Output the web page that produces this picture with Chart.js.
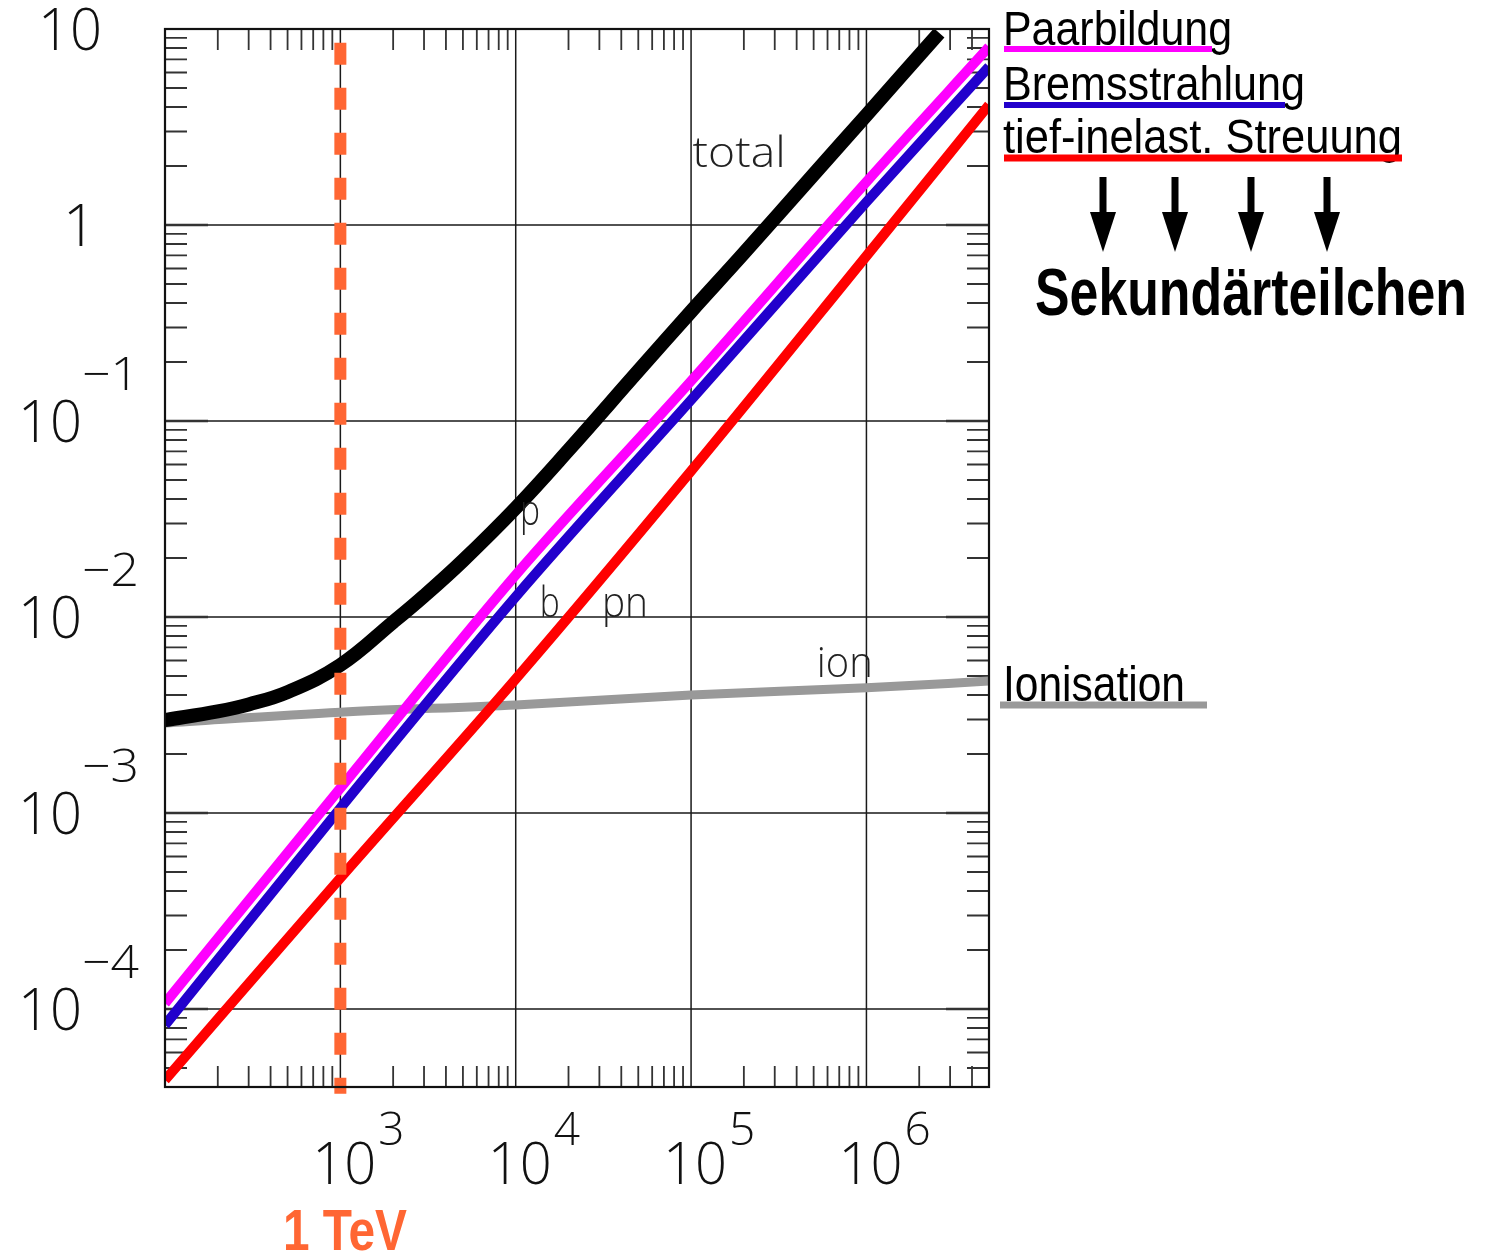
<!DOCTYPE html>
<html>
<head>
<meta charset="utf-8">
<title>Energieverlust von Myonen</title>
<script src="https://cdn.jsdelivr.net/npm/chart.js@4.4.1/dist/chart.umd.min.js"></script>
<style>
  html, body { margin: 0; padding: 0; background: #fff; }
  #wrap { position: relative; width: 1488px; height: 1255px; }
</style>
</head>
<body>
<div id="wrap"><canvas id="lossChart" width="1488" height="1255"></canvas></div>
<script>
// Muon energy loss vs. energy (GeV)

// shared energy points for the four process curves
const energy = [100, 1e3, 1e4, 1e5, 1e6, 5e6];
const pairLoss = [1.07e-4, 1.34e-3, 1.64e-2, 0.16, 1.66, 8.1];       // Paarbildung
const bremsLoss = [8.28e-5, 1.06e-3, 1.27e-2, 0.128, 1.31, 6.42];    // Bremsstrahlung
const nuclLoss = [4.34e-5, 4.66e-4, 4.83e-3, 5.56e-2, 0.695, 4.1];   // tief-inelast. Streuung
const ionLoss = [2.88e-3, 3.27e-3, 3.56e-3, 4.0e-3, 4.35e-3, 4.71e-3]; // Ionisation

// total curve (runs out of the top of the frame)
const totalEnergy = [100, 200, 300, 500, 1e3, 2e3, 3e3, 5e3, 1e4, 2e4, 5e4, 1e5, 2e5, 5e5, 1e6, 2.6e6];
const totalLoss = [2.98e-3, 3.30e-3, 3.58e-3, 4.14e-3, 5.69e-3, 9.42e-3, 1.28e-2, 1.94e-2, 3.6e-2, 7.1e-2, 0.18, 0.362, 0.718, 1.81, 3.64, 9.55];

// 1 TeV marker
const tevEnergy = [1e3, 1e3];
const tevLoss = [8.5, 3.7e-5];

// axes
const xTicks = [1e3, 1e4, 1e5, 1e6];
const yTicks = [1e-4, 1e-3, 1e-2, 1e-1, 1, 10];
const xRange = [100, 5e6];
const yRange = [4e-5, 10];

// in-plot curve labels (anchor = left end of baseline)
const curveLabels = [
  { text: "total", e: 1.02e5, v: 1.98, w: 93 },
  { text: "p", e: 1.057e4, v: 2.95e-2, w: 20 },
  { text: "b", e: 1.37e4, v: 1.0e-2, w: 20 },
  { text: "pn", e: 3.1e4, v: 1.0e-2, w: 46 },
  { text: "ion", e: 5.21e5, v: 4.94e-3, w: 56 }
];

const THIN = '300 {s}px "Open Sans", "DejaVu Sans", sans-serif';
function thinFont(size) { return THIN.replace("{s}", size); }

function pts(xs, ys) {
  return xs.map((x, i) => ({ x: x, y: ys[i] }));
}

// draw text squeezed/stretched to a given width
function fitText(ctx, text, x, y, width, font) {
  ctx.font = font;
  const w = ctx.measureText(text).width;
  ctx.save();
  ctx.translate(x, y);
  ctx.scale(width / w, 1);
  ctx.textAlign = "left";
  ctx.fillText(text, 0, 0);
  ctx.restore();
}

const gridPlugin = {
  id: "gridPlugin",
  beforeDatasetsDraw(chart) {
    const { ctx, chartArea: a, scales: { x, y } } = chart;
    ctx.save();
    // major grid
    ctx.strokeStyle = "#1a1a1a";
    ctx.lineWidth = 1.5;
    ctx.beginPath();
    xTicks.forEach(v => {
      const px = x.getPixelForValue(v);
      ctx.moveTo(px, a.top); ctx.lineTo(px, a.bottom);
    });
    yTicks.forEach(v => {
      if (v >= yRange[1]) return;
      const py = y.getPixelForValue(v);
      ctx.moveTo(a.left, py); ctx.lineTo(a.right, py);
    });
    ctx.stroke();

    // minor ticks, inside on all four sides
    ctx.strokeStyle = "#333";
    ctx.lineWidth = 1.8;
    ctx.beginPath();
    for (let d = 100; d < xRange[1]; d *= 10) {
      for (let m = 2; m <= 9; m++) {
        const v = d * m;
        if (v >= xRange[1]) break;
        const px = x.getPixelForValue(v);
        ctx.moveTo(px, a.bottom); ctx.lineTo(px, a.bottom - 21);
        ctx.moveTo(px, a.top); ctx.lineTo(px, a.top + 21);
      }
    }
    for (let d = 1e-5; d < yRange[1]; d *= 10) {
      for (let m = 2; m <= 9; m++) {
        const v = d * m;
        if (v <= yRange[0] * 1.001 || v >= yRange[1]) continue;
        const py = y.getPixelForValue(v);
        ctx.moveTo(a.left, py); ctx.lineTo(a.left + 22, py);
        ctx.moveTo(a.right, py); ctx.lineTo(a.right - 22, py);
      }
    }
    ctx.stroke();
    // heavier stubs at the major y values
    ctx.lineWidth = 2.4;
    ctx.beginPath();
    yTicks.forEach(v => {
      if (v >= yRange[1]) return;
      const py = y.getPixelForValue(v);
      ctx.moveTo(a.left, py); ctx.lineTo(a.left + 43, py);
      ctx.moveTo(a.right, py); ctx.lineTo(a.right - 43, py);
    });
    ctx.stroke();
    ctx.restore();
  },
  afterDatasetsDraw(chart) {
    const { ctx, chartArea: a } = chart;
    ctx.save();
    ctx.strokeStyle = "#111";
    ctx.lineWidth = 2.2;
    ctx.strokeRect(a.left, a.top, a.right - a.left, a.bottom - a.top);
    ctx.restore();
  }
};

const labelPlugin = {
  id: "labelPlugin",
  afterDraw(chart) {
    const { ctx, scales: { x, y } } = chart;
    ctx.save();
    ctx.fillStyle = "#111";
    ctx.textBaseline = "alphabetic";

    // y tick labels
    yTicks.forEach(v => {
      const py = y.getPixelForValue(v);
      const exp = Math.round(Math.log10(v));
      ctx.font = thinFont(58);
      if (exp === 1) {
        fitText(ctx, "10", 38, py + 21, 64, thinFont(58));
      } else if (exp === 0) {
        ctx.textAlign = "right";
        ctx.fillText("1", 96, py + 21);
      } else {
        fitText(ctx, "10", 18, py + 21, 64, thinFont(58));
        fitText(ctx, "\u2212" + Math.abs(exp), 82, py - 31, 57, thinFont(46));
      }
    });

    // x tick labels
    xTicks.forEach(v => {
      const px = x.getPixelForValue(v);
      const exp = Math.round(Math.log10(v));
      fitText(ctx, "10", px - 28, 1184, 64, thinFont(58));
      ctx.font = thinFont(46);
      ctx.textAlign = "left";
      ctx.fillText(String(exp), px + 38, 1145);
    });

    // curve names inside the frame
    ctx.fillStyle = "#222";
    curveLabels.forEach(l => {
      fitText(ctx, l.text, x.getPixelForValue(l.e), y.getPixelForValue(l.v), l.w, thinFont(42));
    });

    // right-hand legend
    ctx.fillStyle = "#000";
    const legend = [
      { text: "Paarbildung", base: 45, w: 229, color: "#ff00ff", ux: 1212, uy: 49, lw: 6 },
      { text: "Bremsstrahlung", base: 100, w: 302, color: "#2200cc", ux: 1285, uy: 105, lw: 6 },
      { text: "tief-inelast. Streuung", base: 153, w: 399, color: "#ff0000", ux: 1402, uy: 158, lw: 7 }
    ];
    legend.forEach(l => {
      fitText(ctx, l.text, 1003, l.base, l.w, '48px "Liberation Sans", Arial, sans-serif');
    });
    legend.forEach(l => {
      ctx.strokeStyle = l.color;
      ctx.lineWidth = l.lw;
      ctx.beginPath();
      ctx.moveTo(1004, l.uy); ctx.lineTo(l.ux, l.uy);
      ctx.stroke();
    });

    // arrows to the secondary particles
    [1103, 1175, 1251, 1327].forEach(ax => {
      ctx.fillStyle = "#000";
      ctx.fillRect(ax - 3.5, 177, 7, 38);
      ctx.beginPath();
      ctx.moveTo(ax - 13, 212); ctx.lineTo(ax + 13, 212); ctx.lineTo(ax, 252);
      ctx.closePath();
      ctx.fill();
    });
    fitText(ctx, "Sekund\u00e4rteilchen", 1035, 315, 432, 'bold 66px "Liberation Sans", Arial, sans-serif');

    fitText(ctx, "Ionisation", 1003, 701, 182, '50px "Liberation Sans", Arial, sans-serif');
    ctx.strokeStyle = "#999999";
    ctx.lineWidth = 7;
    ctx.beginPath();
    ctx.moveTo(1000, 705); ctx.lineTo(1207, 705);
    ctx.stroke();

    // 1 TeV
    ctx.fillStyle = "#ff6633";
    fitText(ctx, "1 TeV", 283, 1250, 124, 'bold 58px "Liberation Sans", Arial, sans-serif');
    ctx.restore();
  }
};

const ctx = document.getElementById("lossChart").getContext("2d");
new Chart(ctx, {
  type: "line",
  data: {
    datasets: [
      { label: "1 TeV", data: pts(tevEnergy, tevLoss), borderColor: "#ff6633", borderWidth: 12, borderDash: [22, 23], clip: false },
      { label: "total", data: pts(totalEnergy, totalLoss), borderColor: "#000000", borderWidth: 14, tension: 0.4 },
      { label: "Paarbildung", data: pts(energy, pairLoss), borderColor: "#ff00ff", borderWidth: 10, cubicInterpolationMode: "monotone" },
      { label: "Bremsstrahlung", data: pts(energy, bremsLoss), borderColor: "#2200cc", borderWidth: 10, cubicInterpolationMode: "monotone" },
      { label: "tief-inelast. Streuung", data: pts(energy, nuclLoss), borderColor: "#ff0000", borderWidth: 10, cubicInterpolationMode: "monotone" },
      { label: "Ionisation", data: pts(energy, ionLoss), borderColor: "#999999", borderWidth: 9, cubicInterpolationMode: "monotone" }
    ]
  },
  options: {
    responsive: false,
    animation: false,
    layout: { padding: { left: 165, right: 1488 - 989, top: 29, bottom: 1255 - 1087 } },
    elements: { point: { radius: 0 }, line: { borderCapStyle: "butt", fill: false } },
    scales: {
      x: { type: "logarithmic", min: xRange[0], max: xRange[1], display: false },
      y: { type: "logarithmic", min: yRange[0], max: yRange[1], display: false }
    },
    plugins: { legend: { display: false }, tooltip: { enabled: false } }
  },
  plugins: [gridPlugin, labelPlugin]
});
</script>
</body>
</html>
